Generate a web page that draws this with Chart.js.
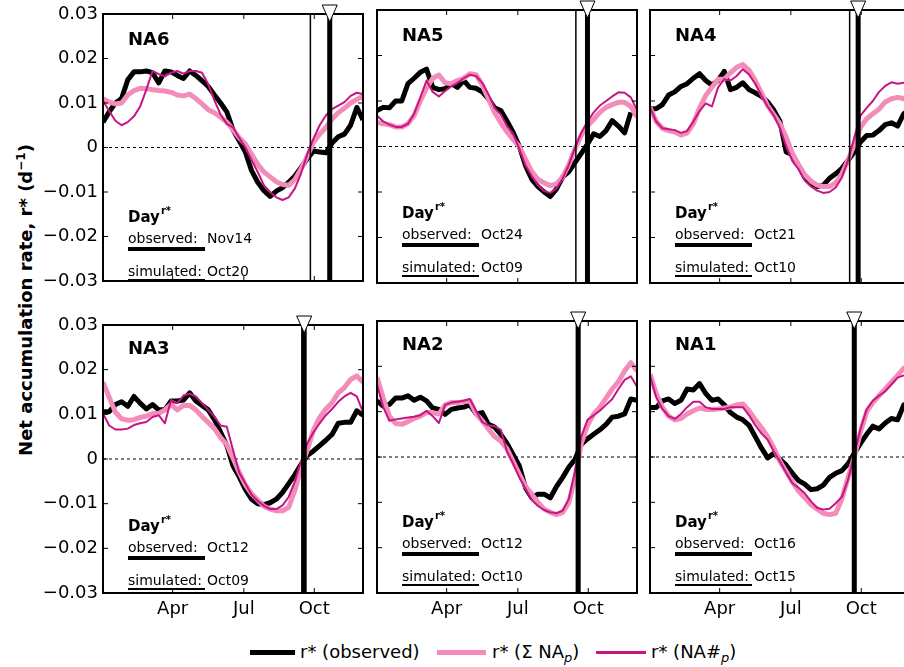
<!DOCTYPE html>
<html>
<head>
<meta charset="utf-8">
<script src="https://cdn.jsdelivr.net/npm/chart.js@4.4.1/dist/chart.umd.min.js"></script>
<style>
html, body { margin: 0; padding: 0; background: #fff; overflow: hidden; }
#fig { position: relative; width: 904px; height: 667px; overflow: hidden; font-family: 'DejaVu Sans', sans-serif; color: #000; }
#fig canvas { position: absolute; }
.ytitle { position: absolute; left: 25px; top: 300px; transform: translate(-50%, -50%) rotate(-90deg); white-space: nowrap; font-weight: bold; font-size: 18px; }
.ytitle sup { font-size: 12px; }
.leg-line { position: absolute; }
.leg-text { position: absolute; top: 642px; font-size: 18px; line-height: 20px; white-space: nowrap; }
.leg-text sub { font-size: 13px; line-height: 0; vertical-align: -4px; }
</style>
</head>
<body>
<div id="fig">
  <div class="ytitle">Net accumulation rate, r* (d<sup>−1</sup>)</div>
  <div class="leg-line" style="left:250px;top:650px;width:45px;height:5px;background:#000"></div>
  <div class="leg-text" style="left:300px">r* (observed)</div>
  <div class="leg-line" style="left:437px;top:650px;width:49px;height:5px;background:#F48CBA"></div>
  <div class="leg-text" style="left:492px">r* (Σ NA<sub><i>p</i></sub>)</div>
  <div class="leg-line" style="left:596px;top:651px;width:50px;height:3px;background:#C71585"></div>
  <div class="leg-text" style="left:651px">r* (NA#<sub><i>p</i></sub>)</div>
</div>
<script>
// x = day of year, one sample every 8 days
const days = [25, 33, 41, 49, 57, 65, 73, 81, 89, 97, 105, 113, 121, 129, 137, 145, 153, 161, 169, 177, 185,
  193, 201, 209, 217, 225, 233, 241, 249, 257, 265, 273, 281, 289, 297, 305, 313, 321, 329, 337, 345, 353, 361];
const tickDays = [115, 207, 298];
const tickLabels = ['Apr', 'Jul', 'Oct'];
const yTicks = [-0.03, -0.02, -0.01, 0, 0.01, 0.02, 0.03];

const panelNames = ['NA6', 'NA5', 'NA4', 'NA3', 'NA2', 'NA1'];
const observedDates = ['Nov14', 'Oct24', 'Oct21', 'Oct12', 'Oct12', 'Oct16'];
const simulatedDates = ['Oct20', 'Oct09', 'Oct10', 'Oct09', 'Oct10', 'Oct15'];
const observedDays = [318, 297, 294, 285, 285, 289];
const simulatedDays = [293, 282, 283, 282, 283, 288];

// r* observed (black)
const na6Obs = [.0057, .0080, .0100, .0110, .0152, .0170, .0170, .0172, .0168, .0145, .0172, .0170, .0162, .0155, .0172, .0162, .0150, .0137, .0118, .0100, .0080, .0040, .0015, -.0010, -.0052, -.0078, -.0097, -.0110, -.0098, -.0090, -.0078, -.0064, -.0045, -.0025, -.0008, -.0010, -.0012, .0010, .0024, .0030, .0050, .0090, .0062];
const na5Obs = [.0079, .0086, .0085, .0100, .0100, .0138, .0150, .0163, .0170, .0130, .0125, .0127, .0138, .0130, .0145, .0130, .0128, .0120, .0105, .0085, .0079, .0056, .0031, .0000, -.0042, -.0072, -.0088, -.0100, -.0110, -.0093, -.0067, -.0055, -.0035, -.0015, .0005, .0028, .0022, .0035, .0057, .0045, .0030, .0075, null];
const na4Obs = [.0083, .0083, .0092, .0113, .0120, .0132, .0138, .0150, .0160, .0145, .0135, .0145, .0165, .0125, .0130, .0140, .0125, .0118, .0110, .0098, .0080, .0055, -.0012, -.0018, -.0042, -.0068, -.0082, -.0088, -.0085, -.0070, -.0060, -.0048, -.0030, -.0012, .0010, .0024, .0025, .0035, .0048, .0052, .0045, .0072, .0080];
const na3Obs = [.0106, .0106, .0122, .0128, .0118, .0140, .0125, .0112, .0122, .0110, .0110, .0130, .0130, .0132, .0148, .0130, .0120, .0110, .0088, .0060, .0030, -.0015, -.0040, -.0068, -.0090, -.0100, -.0102, -.0098, -.0090, -.0075, -.0055, -.0035, -.0012, .0008, .0018, .0030, .0042, .0055, .0080, .0082, .0082, .0108, .0098];
const na2Obs = [.0124, .0112, .0116, .0130, .0130, .0135, .0125, .0132, .0124, .0108, .0105, .0094, .0105, .0108, .0110, .0115, .0095, .0098, .0072, .0066, .0050, .0030, .0005, -.0020, -.0068, -.0090, -.0082, -.0082, -.0090, -.0065, -.0045, -.0022, -.0005, .0028, .0040, .0050, .0060, .0072, .0088, .0090, .0095, .0128, .0125];
const na1Obs = [.0109, .0109, .0124, .0128, .0118, .0125, .0150, .0148, .0162, .0140, .0125, .0128, .0115, .0098, .0088, .0082, .0070, .0045, .0020, -.0002, .0008, -.0005, -.0018, -.0036, -.0052, -.0060, -.0072, -.0070, -.0062, -.0045, -.0036, -.0030, -.0015, .0008, .0030, .0050, .0068, .0062, .0075, .0085, .0082, .0115, .0120];

// r* (Σ NAp) (pink)
const na6Sum = [.0110, .0102, .0098, .0100, .0118, .0128, .0133, .0132, .0130, .0128, .0127, .0124, .0118, .0116, .0120, .0110, .0098, .0085, .0078, .0068, .0057, .0040, .0022, .0008, -.0015, -.0038, -.0055, -.0066, -.0077, -.0083, -.0085, -.0072, -.0048, -.0020, .0012, .0030, .0045, .0064, .0078, .0088, .0100, .0108, .0115];
const na5Sum = [.0053, .0050, .0048, .0043, .0043, .0050, .0068, .0100, .0128, .0150, .0157, .0140, .0138, .0145, .0150, .0160, .0158, .0135, .0105, .0075, .0052, .0032, .0015, .0000, -.0028, -.0055, -.0072, -.0080, -.0086, -.0082, -.0067, -.0040, -.0005, .0025, .0045, .0060, .0075, .0086, .0092, .0097, .0097, .0088, .0065];
const na4Sum = [.0086, .0055, .0040, .0035, .0032, .0025, .0030, .0050, .0085, .0112, .0130, .0148, .0148, .0162, .0174, .0180, .0168, .0145, .0118, .0090, .0070, .0050, .0020, -.0015, -.0040, -.0062, -.0076, -.0085, -.0088, -.0088, -.0080, -.0060, -.0030, .0005, .0042, .0061, .0072, .0082, .0098, .0105, .0108, .0105, .0100];
const na3Sum = [.0172, .0138, .0105, .0090, .0087, .0088, .0093, .0096, .0102, .0102, .0110, .0122, .0110, .0120, .0120, .0110, .0095, .0082, .0068, .0048, .0032, .0002, -.0030, -.0058, -.0078, -.0092, -.0106, -.0112, -.0116, -.0116, -.0108, -.0070, -.0018, .0020, .0065, .0093, .0112, .0126, .0148, .0160, .0178, .0186, .0172];
const na2Sum = [.0176, .0130, .0090, .0074, .0072, .0078, .0085, .0090, .0098, .0098, .0095, .0115, .0120, .0120, .0122, .0124, .0095, .0080, .0062, .0045, .0035, .0018, -.0010, -.0038, -.0065, -.0082, -.0100, -.0115, -.0122, -.0127, -.0122, -.0100, -.0045, .0030, .0070, .0095, .0110, .0130, .0150, .0166, .0190, .0208, .0190];
const na1Sum = [.0183, .0140, .0110, .0090, .0082, .0085, .0095, .0102, .0108, .0105, .0105, .0106, .0108, .0110, .0115, .0117, .0102, .0082, .0065, .0045, .0020, -.0010, -.0032, -.0055, -.0075, -.0090, -.0105, -.0115, -.0124, -.0127, -.0124, -.0092, -.0045, .0000, .0055, .0100, .0120, .0135, .0150, .0165, .0180, .0196, .0200];

// r* (NA#p) (magenta)
const na6Num = [.0105, .0082, .0060, .0050, .0057, .0070, .0092, .0130, .0172, .0165, .0160, .0168, .0172, .0166, .0172, .0172, .0168, .0142, .0106, .0074, .0053, .0045, .0022, .0000, -.0028, -.0055, -.0085, -.0100, -.0112, -.0118, -.0112, -.0092, -.0058, -.0015, .0020, .0050, .0072, .0086, .0094, .0102, .0116, .0123, .0120];
const na5Num = [.0068, .0055, .0048, .0043, .0043, .0050, .0072, .0108, .0145, .0120, .0110, .0122, .0132, .0140, .0150, .0158, .0155, .0140, .0115, .0085, .0070, .0045, .0028, -.0005, -.0042, -.0065, -.0085, -.0098, -.0102, -.0092, -.0070, -.0040, -.0002, .0030, .0055, .0075, .0090, .0100, .0110, .0119, .0118, .0108, .0080];
const na4Num = [.0086, .0055, .0040, .0038, .0036, .0030, .0034, .0055, .0078, .0095, .0088, .0130, .0148, .0145, .0155, .0170, .0158, .0138, .0112, .0088, .0068, .0040, .0000, -.0032, -.0050, -.0075, -.0088, -.0097, -.0102, -.0100, -.0090, -.0068, -.0030, .0020, .0068, .0085, .0100, .0120, .0133, .0141, .0138, .0140, .0140];
const na3Num = [.0102, .0075, .0066, .0066, .0068, .0076, .0080, .0083, .0094, .0098, .0080, .0132, .0125, .0142, .0146, .0140, .0125, .0110, .0095, .0075, .0072, .0020, -.0030, -.0055, -.0080, -.0094, -.0105, -.0112, -.0112, -.0104, -.0085, -.0050, -.0005, .0035, .0060, .0080, .0098, .0112, .0128, .0140, .0148, .0140, .0105];
const na2Num = [.0160, .0110, .0080, .0083, .0085, .0087, .0089, .0092, .0102, .0090, .0075, .0115, .0120, .0122, .0124, .0128, .0102, .0077, .0070, .0068, .0060, .0012, -.0015, -.0045, -.0070, -.0095, -.0108, -.0117, -.0122, -.0124, -.0118, -.0092, -.0030, .0045, .0082, .0092, .0102, .0115, .0128, .0150, .0170, .0178, .0155];
const na1Num = [.0180, .0132, .0106, .0090, .0084, .0095, .0110, .0122, .0122, .0110, .0106, .0106, .0106, .0110, .0110, .0110, .0092, .0070, .0052, .0038, .0012, -.0010, -.0035, -.0058, -.0068, -.0080, -.0098, -.0112, -.0116, -.0114, -.0102, -.0088, -.0050, .0005, .0062, .0105, .0124, .0135, .0145, .0160, .0175, .0180, .0182];

const observed = [na6Obs, na5Obs, na4Obs, na3Obs, na2Obs, na1Obs];
const summed = [na6Sum, na5Sum, na4Sum, na3Sum, na2Sum, na1Sum];
const numbered = [na6Num, na5Num, na4Num, na3Num, na2Num, na1Num];

// layout of the 2 x 3 grid (plot areas)
const panelLeft = [103, 377, 650];
const panelTop = [10, 321];
const panelW = 260;
const panelH = [273, 272];

const PINK = '#F48CBA';
const MAGENTA = '#C71585';
const FONT = "'DejaVu Sans', sans-serif";

Chart.defaults.font.family = FONT;
Chart.defaults.color = '#000';

function line(ctx, x1, y1, x2, y2) {
    ctx.beginPath();
    ctx.moveTo(x1, y1);
    ctx.lineTo(x2, y2);
    ctx.stroke();
}

const panelDeco = {
    id: 'panelDeco',
    beforeDatasetsDraw(chart) {
        const { ctx, chartArea: a, scales: { y } } = chart;
        const y0 = y.getPixelForValue(0);
        ctx.save();
        ctx.strokeStyle = '#000';
        ctx.lineWidth = 1;
        ctx.setLineDash([3, 3]);
        line(ctx, a.left, y0, a.right, y0);
        ctx.restore();
    },
    afterDatasetsDraw(chart, args, opts) {
        const { ctx, chartArea: a, scales: { x, y } } = chart;
        ctx.save();
        ctx.strokeStyle = '#000';
        ctx.fillStyle = '#000';

        // day markers: thin = simulated, thick = observed
        const xs = x.getPixelForValue(opts.simDay);
        const xo = x.getPixelForValue(opts.obsDay);
        ctx.lineWidth = 1.5;
        line(ctx, xs, a.top, xs, a.bottom);
        ctx.lineWidth = 5;
        line(ctx, xo, a.top, xo, a.bottom);

        // frame
        ctx.lineWidth = 2;
        ctx.strokeRect(a.left, a.top, a.right - a.left, a.bottom - a.top);

        // inward ticks
        ctx.lineWidth = 1;
        tickDays.forEach(d => {
            const px = x.getPixelForValue(d);
            line(ctx, px, a.bottom, px, a.bottom - 5);
            line(ctx, px, a.top, px, a.top + 5);
        });
        yTicks.forEach(v => {
            const py = y.getPixelForValue(v);
            line(ctx, a.left, py, a.left + 5, py);
            line(ctx, a.right, py, a.right - 5, py);
        });

        // triangle on the observed day
        ctx.beginPath();
        ctx.moveTo(xo - 7.5, a.top - 9);
        ctx.lineTo(xo + 7.5, a.top - 9);
        ctx.lineTo(xo, a.top + 8);
        ctx.closePath();
        ctx.fillStyle = '#fff';
        ctx.fill();
        ctx.stroke();

        // texts
        const tx = a.left + 25;
        const dy = opts.shift;
        ctx.fillStyle = '#000';
        ctx.textBaseline = 'alphabetic';
        ctx.font = 'bold 18px ' + FONT;
        ctx.fillText(opts.name, tx, a.top + 31 + dy);

        ctx.font = 'bold 15px ' + FONT;
        ctx.fillText('Day', tx, a.top + 208 + dy);
        const dw = ctx.measureText('Day').width;
        ctx.font = 'bold 10px ' + FONT;
        ctx.fillText('r*', tx + dw + 1, a.top + 200 + dy);

        ctx.font = '14px ' + FONT;
        ctx.fillText('observed:', tx, a.top + 229 + dy);
        ctx.fillText(opts.obsDate, a.left + 104, a.top + 229 + dy);
        ctx.fillRect(tx, a.top + 233 + dy, 77, 4);

        ctx.fillText('simulated:', tx, a.top + 262 + dy);
        ctx.fillText(opts.simDate, a.left + 104, a.top + 262 + dy);
        ctx.fillRect(tx, a.top + 265 + dy, 77, 2);
        ctx.restore();
    }
};

function pts(arr) {
    return days.map((d, k) => ({ x: d, y: arr[k] }));
}

const fig = document.getElementById('fig');

panelNames.forEach((name, i) => {
    const row = Math.floor(i / 3);
    const col = i % 3;
    const yw = col === 0 ? 100 : 14;
    const xh = row === 1 ? 34 : 0;
    const padB = row === 1 ? 4 : 12;
    const w = yw + panelW + 4;
    const h = 10 + panelH[row] + xh + padB;

    const canvas = document.createElement('canvas');
    canvas.width = w;
    canvas.height = h;
    canvas.style.width = w + 'px';
    canvas.style.height = h + 'px';
    canvas.style.left = (panelLeft[col] - yw) + 'px';
    canvas.style.top = (panelTop[row] - 10) + 'px';
    fig.appendChild(canvas);

    new Chart(canvas, {
        type: 'line',
        data: {
            datasets: [
                { label: 'r* (NA#p)', data: pts(numbered[i]), borderColor: MAGENTA, borderWidth: 2, order: 1 },
                { label: 'r* (Σ NAp)', data: pts(summed[i]), borderColor: PINK, borderWidth: 5, order: 2 },
                { label: 'r* (observed)', data: pts(observed[i]), borderColor: '#000', borderWidth: 5, order: 3 }
            ]
        },
        options: {
            responsive: false,
            devicePixelRatio: 1,
            animation: false,
            events: [],
            layout: { padding: { left: 0, top: 10, right: 4, bottom: padB } },
            elements: {
                point: { radius: 0 },
                line: { tension: 0, fill: false, borderJoinStyle: 'round', borderCapStyle: 'butt' }
            },
            datasets: { line: { clip: 0 } },
            scales: {
                x: {
                    type: 'linear',
                    min: 25,
                    max: 361,
                    grid: { display: false, drawTicks: false },
                    border: { display: false },
                    afterBuildTicks: s => { s.ticks = tickDays.map(v => ({ value: v })); },
                    afterFit: s => { s.height = xh; },
                    ticks: {
                        display: row === 1,
                        autoSkip: false,
                        maxRotation: 0,
                        padding: 7,
                        color: '#000',
                        font: { size: 18, lineHeight: 1 },
                        callback: v => tickLabels[tickDays.indexOf(v)]
                    }
                },
                y: {
                    min: -0.03,
                    max: 0.03,
                    grid: { display: false, drawTicks: false },
                    border: { display: false },
                    afterBuildTicks: s => { s.ticks = yTicks.map(v => ({ value: v })); },
                    afterFit: s => { s.width = yw; },
                    ticks: {
                        display: col === 0,
                        padding: 5,
                        color: '#000',
                        font: { size: 18, lineHeight: 1 },
                        callback: v => v === 0 ? '0' : v.toFixed(2).replace('-', '\u2212')
                    }
                }
            },
            plugins: {
                legend: { display: false },
                tooltip: { enabled: false },
                panelDeco: {
                    name: name,
                    obsDay: observedDays[i],
                    simDay: simulatedDays[i],
                    obsDate: observedDates[i],
                    simDate: simulatedDates[i],
                    shift: row === 1 ? -2 : 0
                }
            }
        },
        plugins: [panelDeco]
    });
});
</script>
</body>
</html>
